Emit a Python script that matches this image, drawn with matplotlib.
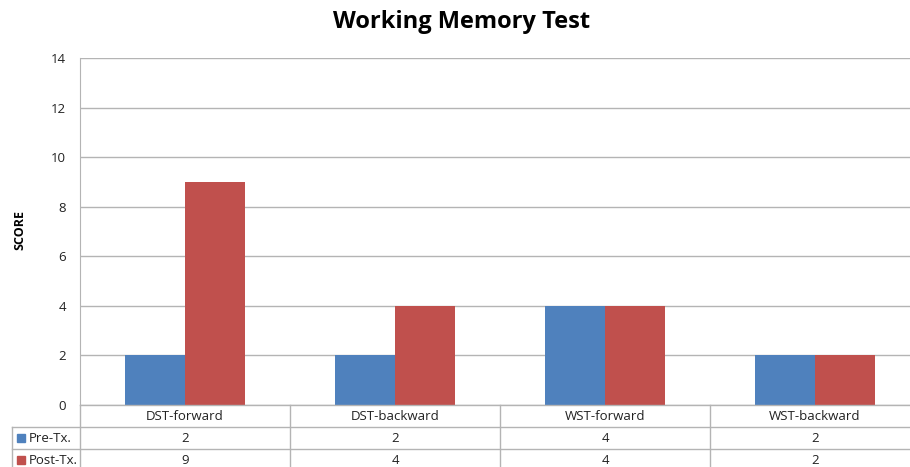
import numpy as np
import matplotlib.pyplot as plt
from matplotlib.lines import Line2D
from matplotlib.patches import Rectangle

categories = ['DST-forward', 'DST-backward', 'WST-forward', 'WST-backward']
series_names = ['Pre-Tx.', 'Post-Tx.']
pre_tx = [2, 2, 4, 2]
post_tx = [9, 4, 4, 2]
yticks = [0, 2, 4, 6, 8, 10, 12, 14]

colors = ['#4F81BD', '#C0504D']
grid_c = '#b4b4b4'
plt.rcParams['font.family'] = ['Open Sans', 'DejaVu Sans']

W, H = 910, 467
fig = plt.figure(figsize=(W / 100, H / 100), dpi=100)

# plot area in pixels (runs a bit past the right edge, like the original)
left, right, top, bottom = 80, 920, 58, 405
ax = fig.add_axes([left / W, 1 - bottom / H, (right - left) / W, (bottom - top) / H])

x = np.arange(len(categories))
bw = 60 / 210
ax.bar(x - bw / 2, pre_tx, bw, color=colors[0], zorder=3)
ax.bar(x + bw / 2, post_tx, bw, color=colors[1], zorder=3)

ax.set_xlim(-0.5, len(categories) - 0.5)
ax.set_ylim(0, 14)
ax.set_yticks(yticks)
ax.set_xticks([])
ax.grid(axis='y', color=grid_c, lw=1)
ax.set_axisbelow(True)
for s in ['top', 'right', 'bottom']:
    ax.spines[s].set_visible(False)
ax.spines['left'].set_color(grid_c)
ax.tick_params(axis='y', length=0, labelsize=9.5, pad=10, colors='#222222')

fig.text(20 / W, 1 - 230 / H, 'SCORE', rotation=90, ha='center', va='center',
         fontsize=9, fontweight='bold')
fig.text(462 / W, 1 - 22 / H, 'Working Memory Test', ha='center', va='center',
         fontsize=17, fontweight='bold')

# data table under the axis
def fx(px):
    return px / W

def fy(py):
    return 1 - py / H

def hline(x0, x1, y):
    fig.add_artist(Line2D([fx(x0), fx(x1)], [fy(y), fy(y)], color=grid_c, lw=1))

def vline(xp, y0, y1):
    fig.add_artist(Line2D([fx(xp), fx(xp)], [fy(y0), fy(y1)], color=grid_c, lw=1))

row_h = 22
col_w = (right - left) / len(categories)
hline(left, right, bottom)
hline(12, right, bottom + row_h)
hline(12, right, bottom + 2 * row_h)
vline(12, bottom + row_h, H + 5)
for i in range(len(categories)):
    vline(left + i * col_w, bottom, H + 5)

for i, c in enumerate(categories):
    fig.text(fx(left + (i + 0.5) * col_w), fy(bottom + row_h / 2), c,
             ha='center', va='center', fontsize=9.5, color='#222222')

for r, (name, vals) in enumerate(zip(series_names, [pre_tx, post_tx])):
    yc = bottom + (r + 1.5) * row_h
    fig.add_artist(Rectangle((fx(17), fy(yc + 4)), 8 / W, 8 / H,
                             color=colors[r], transform=fig.transFigure))
    fig.text(fx(29), fy(yc), name, ha='left', va='center', fontsize=9.5,
             color='#222222')
    for i, v in enumerate(vals):
        fig.text(fx(left + (i + 0.5) * col_w), fy(yc), str(v),
                 ha='center', va='center', fontsize=9.5, color='#222222')

fig.savefig('out.png', dpi=100)
